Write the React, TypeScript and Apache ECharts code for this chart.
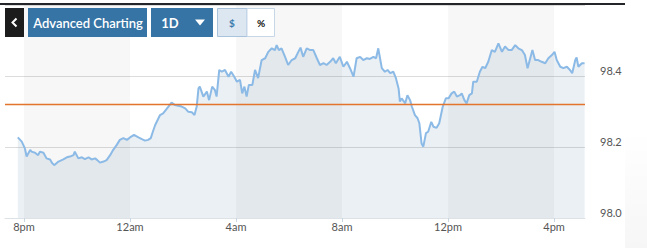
import React, { useEffect, useRef } from "react";
import * as echarts from "echarts";

// minutes after 8pm
const minutes = [
  -14, -5, 2, 6, 14, 17, 25, 32, 36, 44, 51, 59, 64, 69, 78, 89, 97, 104, 112, 115, 123, 131, 138, 146, 153, 161, 166, 172, 180, 187,
  195, 202, 210, 217, 225, 233, 240, 249, 259, 267, 274, 281, 287, 293, 297, 308, 315, 327, 334, 342, 349, 357, 365, 372, 380, 386,
  391, 395, 398, 406, 414, 419, 426, 432, 436, 442, 448, 455, 463, 469, 476, 482, 489, 494, 499, 504, 509, 517, 523, 530, 538, 546,
  553, 561, 568, 572, 577, 583, 591, 598, 606, 614, 621, 626, 632, 640, 648, 655, 663, 670, 678, 685, 693, 700, 706, 715, 723, 731,
  738, 746, 753, 761, 768, 776, 783, 791, 797, 802, 806, 810, 817, 823, 829, 836, 842, 848, 851, 855, 863, 868, 874, 878, 885, 891,
  895, 900, 904, 910, 915, 922, 927, 934, 940, 948, 955, 961, 968, 974, 980, 987, 991, 997, 1002, 1008, 1014, 1017, 1025, 1032, 1038,
  1044, 1051, 1059, 1066, 1074, 1082, 1089, 1097, 1104, 1112, 1119, 1127, 1134, 1140, 1146, 1151, 1157, 1164, 1172, 1180, 1187, 1195,
  1201, 1206, 1214, 1221, 1229, 1236, 1241, 1248, 1251, 1255, 1263, 1269,
];

const prices = [
  98.227, 98.215, 98.196, 98.173, 98.192, 98.187, 98.184, 98.177, 98.187, 98.184, 98.168, 98.165, 98.154, 98.149, 98.159, 98.165,
  98.171, 98.173, 98.177, 98.187, 98.168, 98.171, 98.166, 98.171, 98.165, 98.168, 98.163, 98.156, 98.159, 98.163, 98.177, 98.192,
  98.206, 98.22, 98.225, 98.22, 98.227, 98.234, 98.227, 98.222, 98.218, 98.22, 98.225, 98.248, 98.262, 98.29, 98.295, 98.314, 98.325,
  98.318, 98.316, 98.314, 98.309, 98.299, 98.298, 98.29, 98.314, 98.365, 98.37, 98.342, 98.356, 98.332, 98.37, 98.361, 98.342, 98.417,
  98.412, 98.417, 98.398, 98.412, 98.398, 98.384, 98.389, 98.351, 98.37, 98.342, 98.375, 98.375, 98.417, 98.394, 98.445, 98.45, 98.468,
  98.478, 98.473, 98.487, 98.473, 98.478, 98.454, 98.431, 98.445, 98.45, 98.468, 98.48, 98.454, 98.478, 98.473, 98.473, 98.45, 98.431,
  98.436, 98.431, 98.44, 98.45, 98.436, 98.454, 98.426, 98.44, 98.422, 98.398, 98.45, 98.454, 98.445, 98.45, 98.448, 98.454, 98.45,
  98.478, 98.45, 98.422, 98.412, 98.417, 98.408, 98.412, 98.394, 98.365, 98.328, 98.337, 98.323, 98.346, 98.332, 98.314, 98.29, 98.281,
  98.267, 98.21, 98.201, 98.239, 98.243, 98.271, 98.257, 98.254, 98.267, 98.314, 98.337, 98.337, 98.351, 98.356, 98.342, 98.346,
  98.351, 98.332, 98.323, 98.346, 98.351, 98.384, 98.384, 98.412, 98.426, 98.422, 98.44, 98.473, 98.468, 98.492, 98.468, 98.483,
  98.473, 98.473, 98.487, 98.478, 98.473, 98.459, 98.422, 98.45, 98.473, 98.445, 98.445, 98.44, 98.436, 98.45, 98.459, 98.468, 98.445,
  98.426, 98.422, 98.426, 98.417, 98.408, 98.445, 98.452, 98.426, 98.436, 98.436,
];

const tickMinutes = [0, 240, 480, 720, 960, 1200];
const tickLabels = ["8pm", "12am", "4am", "8am", "12pm", "4pm"];
const bandRanges = [
  [0, 240],
  [480, 720],
  [960, 1200],
];
const previousClose = 98.321;
const yMin = 98.0;
const yMax = 98.6;
const yStep = 0.2;
const xMin = -43;
const xMax = 1270;

const buttonLabels = ["Advanced Charting", "1D", "$", "%"];

const FONT = "Lato, 'Open Sans', sans-serif";

export default function App() {
  const ref = useRef<HTMLDivElement>(null);
  useEffect(() => {
    if (!ref.current) return;
    const chart = echarts.init(ref.current, null, { renderer: "svg" });
    const data = minutes.map((m, i) => [m, prices[i]]);
    chart.setOption({
      animation: false,
      grid: { left: 5, right: 62, top: 5, bottom: 30, containLabel: false },
      xAxis: {
        type: "value",
        min: xMin,
        max: xMax,
        splitLine: { show: false },
        axisLine: { show: true, lineStyle: { color: "#dde2e6", width: 1 } },
        axisTick: {
          show: true,
          customValues: tickMinutes,
          length: 4,
          lineStyle: { color: "#c9d6e2" },
        },
        axisLabel: {
          customValues: tickMinutes,
          margin: 3,
          fontSize: 11,
          fontFamily: FONT,
          color: "#555",
          formatter: (v: number) => {
            const i = tickMinutes.indexOf(Math.round(v));
            return i >= 0 ? tickLabels[i] : "";
          },
        },
      },
      yAxis: {
        type: "value",
        position: "right",
        min: yMin,
        max: yMax,
        interval: yStep,
        axisLine: { show: false },
        axisTick: { show: false },
        splitLine: { show: true, lineStyle: { color: "#dcdcdc", width: 1 } },
        axisLabel: {
          margin: 15,
          fontSize: 11,
          fontFamily: FONT,
          color: "#555",
          verticalAlign: "bottom",
          showMaxLabel: false,
          formatter: (v: number) => (Math.abs(v - yMax) < 1e-6 ? "" : v.toFixed(1)),
        },
      },
      series: [
        {
          type: "line",
          data: [],
          z: 1,
          silent: true,
          markArea: {
            silent: true,
            itemStyle: { color: "rgba(0,0,0,0.03)" },
            data: bandRanges.map(([a, b]) => [{ xAxis: a }, { xAxis: b }]),
          },
        },
        {
          type: "line",
          data,
          z: 3,
          showSymbol: false,
          symbol: "none",
          lineStyle: { color: "#8cbae6", width: 2 },
          areaStyle: { color: "rgba(70,110,150,0.15)" },
          markLine: {
            silent: true,
            symbol: "none",
            label: { show: false },
            lineStyle: { color: "#e2742e", width: 1.3, type: "solid" },
            data: [{ yAxis: previousClose }],
          },
        },
      ],
      graphic: [
        { type: "rect", z: 100, shape: { x: 0, y: 3, width: 625, height: 2 }, style: { fill: "#232529" } },
        { type: "rect", z: 100, shape: { x: 5, y: 8, width: 19, height: 29 }, style: { fill: "#1c1c1c" } },
        {
          type: "polyline",
          z: 101,
          shape: { points: [[16.5, 18.5], [12.5, 22.5], [16.5, 26.5]] },
          style: { stroke: "#fff", lineWidth: 2, fill: "none" },
        },
        { type: "rect", z: 100, shape: { x: 28, y: 8, width: 119, height: 29 }, style: { fill: "#3574a5" } },
        {
          type: "text",
          z: 101,
          style: { x: 88, y: 22.5, text: buttonLabels[0], fill: "#fff", fontSize: 13, fontWeight: 600, fontFamily: FONT, align: "center", verticalAlign: "middle" },
        },
        { type: "rect", z: 100, shape: { x: 151, y: 8, width: 62, height: 29 }, style: { fill: "#3574a5" } },
        {
          type: "text",
          z: 101,
          style: { x: 170, y: 22.5, text: buttonLabels[1], fill: "#fff", fontSize: 13, fontWeight: "bold", fontFamily: FONT, align: "center", verticalAlign: "middle" },
        },
        { type: "polygon", z: 101, shape: { points: [[195, 19.5], [205, 19.5], [200, 25.5]] }, style: { fill: "#fff" } },
        { type: "rect", z: 100, shape: { x: 217.5, y: 8.5, width: 29.5, height: 28 }, style: { fill: "#dce7f1", stroke: "#a9c3dc", lineWidth: 1 } },
        {
          type: "text",
          z: 101,
          style: { x: 232, y: 22.5, text: buttonLabels[2], fill: "#3a7aac", fontSize: 10, fontWeight: "bold", fontFamily: FONT, align: "center", verticalAlign: "middle" },
        },
        { type: "rect", z: 100, shape: { x: 247, y: 8.5, width: 27.5, height: 28 }, style: { fill: "#fff", stroke: "#c6d7e8", lineWidth: 1 } },
        {
          type: "text",
          z: 101,
          style: { x: 261, y: 22.5, text: buttonLabels[3], fill: "#111", fontSize: 10, fontWeight: "bold", fontFamily: FONT, align: "center", verticalAlign: "middle" },
        },
        {
          type: "rect",
          z: 0,
          shape: { x: 625, y: 130, width: 22, height: 118 },
          style: {
            fill: new echarts.graphic.LinearGradient(0, 0, 0, 1, [
              { offset: 0, color: "rgba(0,0,0,0)" },
              { offset: 1, color: "rgba(0,0,0,0.035)" },
            ]),
          },
        },
      ],
    });
    return () => chart.dispose();
  }, []);
  return <div ref={ref} style={{ position: "absolute", left: 0, top: 0, width: 647, height: 248 }} />;
}
